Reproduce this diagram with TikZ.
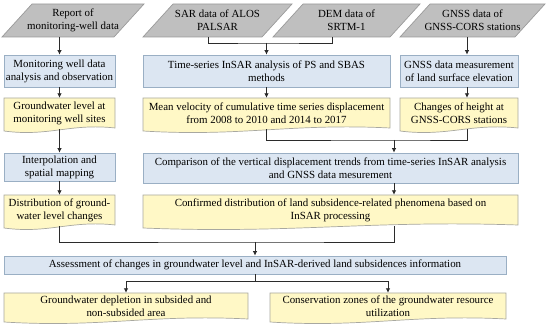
\documentclass[tikz,border=0pt]{standalone}
\usepackage{fontspec}
\setmainfont{Liberation Serif}
\usetikzlibrary{arrows.meta}
\definecolor{bfill}{HTML}{DCE6F2}
\definecolor{bline}{HTML}{9AAFC4}
\definecolor{yfill}{HTML}{FFF8C6}
\definecolor{yline}{HTML}{A8A8A0}
\definecolor{gfill}{HTML}{BFBFBF}
\definecolor{gline}{HTML}{9A9A9A}
\definecolor{lcol}{HTML}{2B2B2B}
\tikzset{
 txt/.style={align=center, inner sep=0pt, font=\fontsize{10.9}{12.8}\selectfont, text=black},
 proc/.style={txt, rectangle, fill=bfill, draw=bline, line width=0.7pt},
 conn/.style={draw=lcol, line width=0.8pt},
 arr/.style={conn, -{Latex[length=4.5pt,width=4.5pt]}},
 docpath/.style={fill=yfill, draw=yline, line width=0.7pt},
 parapath/.style={fill=gfill, draw=gline, line width=0.7pt},
}
\newcommand\mkpara[6]{%
 \path[parapath] (#2,#5) -- (#2+30,#4) -- (#3,#4) -- (#3-30,#5) -- cycle;
 \node[txt, minimum width={#3-#2-30}, minimum height={#5-#4}] (#1) at ({(#2+#3)/2},{(#4+#5)/2}) {#6};
}
\newcommand\mkproc[6]{%
 \node[proc, minimum width={#4-#2}, minimum height={#5-#3}] (#1) at ({(#2+#4)/2},{(#3+#5)/2}) {#6};
}
\newcommand\mkdoc[6]{%
 \path[docpath] (#2,#3) -- (#4,#3) -- (#4,#5-3) .. controls ({#2+0.6*(#4-#2)},#5-8) and ({#2+0.4*(#4-#2)},#5+6) .. (#2,#5) -- cycle;
 \node[txt, minimum width={#4-#2}, minimum height={#5-#3-2}] (#1) at ({(#2+#4)/2},{(#3+#5)/2-1}) {#6};
}
\begin{document}
\begin{tikzpicture}[x=1pt,y=-1pt]
\useasboundingbox (0,0) rectangle (550,328);
% sources
\mkpara{rep}{2}{144}{4}{37}{Report of\\monitoring-well data}
\mkpara{sar}{143}{292}{4}{37}{SAR data of ALOS\\PALSAR}
\mkpara{dem}{273}{420}{4}{37}{DEM data of\\SRTM-1}
\mkpara{gnss}{400}{545}{4}{37}{GNSS data of\\GNSS-CORS stations}
% row 1
\mkproc{b1}{4}{55}{115}{87}{Monitoring well data\\analysis and observation}
\mkproc{b2}{143}{55}{390}{87}{Time-series InSAR analysis of PS and SBAS\\methods}
\mkproc{b3}{400}{55}{518}{87}{GNSS data measurement\\of land surface elevation}
% row 2
\mkdoc{y1}{4}{98}{115}{131}{Groundwater level at\\monitoring well sites}
\mkdoc{y2}{143}{98}{390}{131}{Mean velocity of cumulative time series displacement\\from 2008 to 2010 and 2014 to 2017}
\mkdoc{y3}{400}{98}{518}{131}{Changes of height at\\GNSS-CORS stations}
% row 3
\mkproc{b4}{4}{153}{115}{181}{Interpolation and\\spatial mapping}
\mkproc{b5}{143}{153}{518}{183}{Comparison of the vertical displacement trends from time-series InSAR analysis\\and GNSS data mesurement}
% row 4
\mkdoc{y4}{4}{195}{115}{228}{Distribution of ground-\\water level changes}
\mkdoc{y5}{143}{195}{518}{228}{Confirmed distribution of land subsidence-related phenomena based on\\InSAR processing}
% row 5
\mkproc{b6}{4}{256}{506}{274}{Assessment of changes in groundwater level and InSAR-derived land subsidences information}
% row 6
\mkdoc{y6}{4}{293}{248}{322}{Groundwater depletion in subsided and\\non-subsided area}
\mkdoc{y7}{270}{293}{506}{322}{Conservation zones of the groundwater resource\\utilization}
% columns and junctions
\coordinate (colS) at (208,0);
\coordinate (colD) at (332,0);
\coordinate (colG) at (467,0);
\coordinate (colA) at (394,0);
\coordinate (jsd) at (266.5,43);
\coordinate (m1) at (394,140);
\coordinate (m2) at (255,242);
\coordinate (m3) at (255,281);
% connectors
\draw[arr] (rep.south -| b1.north) -- (b1.north);
\draw[conn] (sar.south -| colS) |- (jsd) -| (dem.south -| colD);
\draw[arr] (jsd) -- (b2.north);
\draw[arr] (gnss.south -| colG) -- (b3.north -| colG);
\draw[arr] (b1.south) -- (y1.north);
\draw[arr] (b2.south) -- (y2.north);
\draw[arr] (b3.south -| colG) -- (y3.north -| colG);
\draw[arr] (y1.south) -- (b4.north);
\draw[conn] (y2.south) |- (m1) -| (y3.south -| colG);
\draw[arr] (m1) -- (m1 |- b5.north);
\draw[arr] (b4.south) -- (y4.north);
\draw[arr] (b5.south -| colA) -- (y5.north -| colA);
\draw[conn] (y4.south) |- (m2) -| (y5.south -| colA);
\draw[arr] (m2) -- (b6.north);
\draw[conn] (b6.south) -- (m3);
\draw[arr] (m3) -| (y6.north);
\draw[arr] (m3) -| (y7.north);
\end{tikzpicture}
\end{document}
